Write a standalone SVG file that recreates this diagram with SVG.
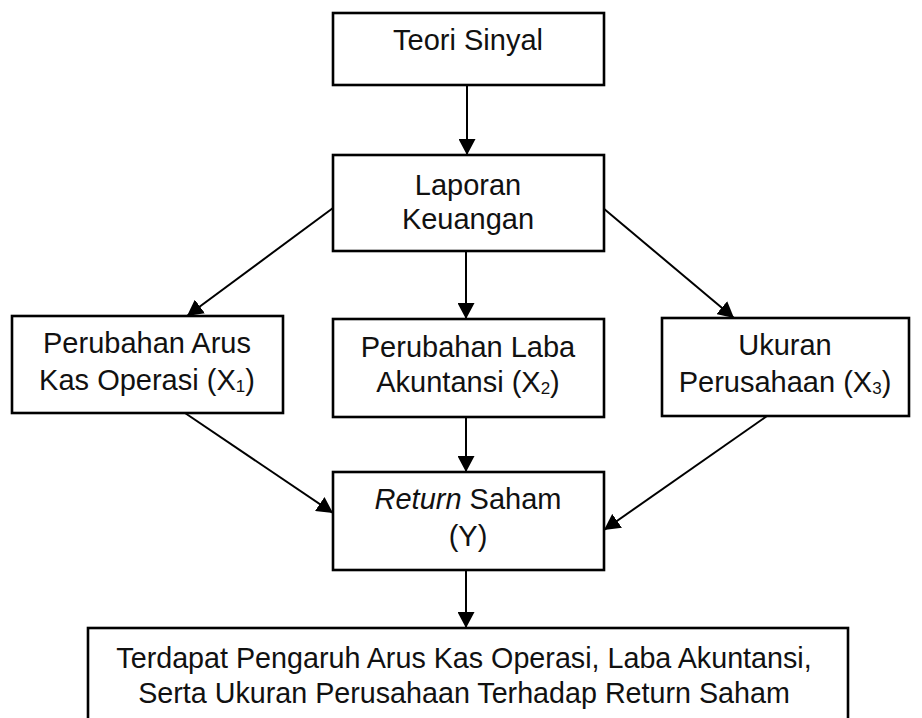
<svg xmlns="http://www.w3.org/2000/svg" width="922" height="718" viewBox="0 0 922 718">
<style>
.box{fill:#fff;stroke:#000;stroke-width:2.6}
.t{font-family:"Liberation Sans",Arial,sans-serif;font-size:29px;fill:#111;text-anchor:middle}
.tb{font-family:"Liberation Sans",Arial,sans-serif;font-size:28.7px;fill:#111;text-anchor:middle}
.c{stroke:#000;stroke-width:2;fill:none;marker-end:url(#ah)}
.sub{font-size:17px}
</style>
<defs>
<marker id="ah" markerUnits="userSpaceOnUse" markerWidth="16" markerHeight="17" refX="16" refY="8.5" orient="auto">
<path d="M0,0 L16,8.5 L0,17 z" fill="#000"/>
</marker>
</defs>
<rect width="922" height="718" fill="#fff"/>
<g id="connectors">
<line class="c" x1="467" y1="85" x2="467" y2="155"/>
<line class="c" x1="466" y1="251" x2="466" y2="319"/>
<line class="c" x1="333" y1="208" x2="187" y2="316"/>
<line class="c" x1="603" y1="208" x2="734" y2="318"/>
<line class="c" x1="185" y1="413" x2="333" y2="513"/>
<line class="c" x1="767" y1="416" x2="604" y2="530"/>
<line class="c" x1="466" y1="417" x2="466" y2="472"/>
<line class="c" x1="466" y1="570" x2="466" y2="628"/>
</g>
<g id="teori">
<rect class="box" x="333" y="13" width="271" height="72"/>
<text class="t" x="468" y="50">Teori Sinyal</text>
</g>
<g id="laporan">
<rect class="box" x="333" y="155" width="271" height="96"/>
<text class="t" x="468" y="195">Laporan</text>
<text class="t" x="468" y="229">Keuangan</text>
</g>
<g id="x1">
<rect class="box" x="12" y="316" width="271" height="97"/>
<text class="t" x="147" y="353">Perubahan Arus</text>
<text class="t" x="147" y="390">Kas Operasi (X<tspan class="sub" dy="2">1</tspan><tspan dy="-2">)</tspan></text>
</g>
<g id="x2">
<rect class="box" x="333" y="319" width="271" height="98"/>
<text class="t" x="468" y="357">Perubahan Laba</text>
<text class="t" x="468" y="392">Akuntansi (X<tspan class="sub" dy="2">2</tspan><tspan dy="-2">)</tspan></text>
</g>
<g id="x3">
<rect class="box" x="662" y="318" width="247" height="98"/>
<text class="t" x="785" y="355">Ukuran</text>
<text class="t" x="785" y="392">Perusahaan (X<tspan class="sub" dy="2">3</tspan><tspan dy="-2">)</tspan></text>
</g>
<g id="y">
<rect class="box" x="333" y="472" width="271" height="98"/>
<text class="t" x="468" y="509"><tspan font-style="italic">Return</tspan> Saham</text>
<text class="t" x="468" y="546">(Y)</text>
</g>
<g id="kesimpulan">
<rect class="box" x="88" y="628" width="760" height="110"/>
<text class="tb" x="464" y="668">Terdapat Pengaruh Arus Kas Operasi, Laba Akuntansi,</text>
<text class="tb" x="464" y="703">Serta Ukuran Perusahaan Terhadap Return Saham</text>
</g>
</svg>
